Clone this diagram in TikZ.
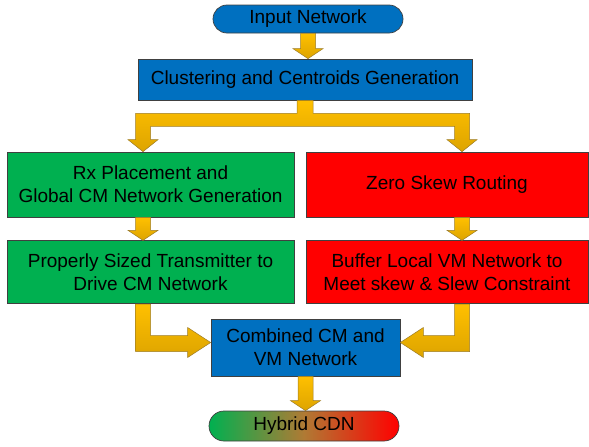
\documentclass[tikz,border=0pt]{standalone}
\usepackage{fontspec}
\setmainfont{Liberation Sans}
\usetikzlibrary{positioning,calc}
\definecolor{StepBlue}{HTML}{0070C0}
\definecolor{CmGreen}{HTML}{00B050}
\definecolor{VmRed}{HTML}{FF0000}
\definecolor{ArrowTop}{HTML}{FFC000}
\definecolor{ArrowBottom}{HTML}{DDA400}
\definecolor{ArrowEdge}{HTML}{9C7C28}
\definecolor{BoxEdge}{HTML}{404040}

% block arrow straight down from a point to the top of a node
\newcommand{\flowdown}[2]{%
  \draw[flow] let \p1=(#1), \p2=(#2.north) in
    (\x1-7.5pt,\y1) -- (\x1-7.5pt,\y2+10pt) -- (\x1-15pt,\y2+10pt) -- (\x1,\y2)
    -- (\x1+15pt,\y2+10pt) -- (\x1+7.5pt,\y2+10pt) -- (\x1+7.5pt,\y1) -- cycle;}

\begin{document}
\begin{tikzpicture}[x=1pt, y=-1pt, node distance=23pt, every node/.style={font=\fontsize{19}{23}\selectfont}]
        \tikzstyle{stage}=[draw=BoxEdge, line width=0.7pt, align=center, inner sep=2pt]
        \tikzstyle{flow}=[draw=ArrowEdge, line width=0.5pt, top color=ArrowTop, bottom color=ArrowBottom]
        \useasboundingbox (0,0) rectangle (589,447);

        \node[stage, fill=StepBlue, rounded corners=14pt, minimum width=190pt, minimum height=28pt] (in) at (308,19) {Input Network};
        \node[stage, fill=StepBlue, minimum width=334pt, minimum height=41pt] (cl) at (305,79.5) {Clustering and Centroids Generation};
        \node[stage, fill=CmGreen, minimum width=287pt, minimum height=65pt] (g1) at (150.5,184.5) {Rx Placement and\\Global CM Network Generation};
        \node[stage, fill=VmRed, minimum width=282pt, minimum height=65pt] (r1) at (447,184.5) {Zero Skew Routing};
        \node[stage, fill=CmGreen, minimum width=287pt, minimum height=63pt, below=of g1] (g2) {Properly Sized Transmitter to\\Drive CM Network};
        \node[stage, fill=VmRed, minimum width=282pt, minimum height=63pt, below=of r1] (r2) {Buffer Local VM Network to\\Meet skew \& Slew Constraint};
        \node[stage, fill=StepBlue, minimum width=189pt, minimum height=57pt] (cm) at (305.5,347.5) {Combined CM and\\VM Network};
        \node[stage, rounded corners=15pt, left color=CmGreen, right color=VmRed, middle color={rgb,255:red,176;green,122;blue,52}, minimum width=190pt, minimum height=30pt] (hy) at (304,426) {Hybrid CDN};

        % columns of the two branches
        \coordinate (colL) at (143,0);
        \coordinate (colR) at (462,0);

        \flowdown{in.south}{cl}
        % split into both branches
        \draw[flow] let \p0=(cl.south), \p1=(g1.north -| colL), \p2=(r1.north -| colR) in
          (\x0-8pt,\y0) -- (\x0-8pt,\y0-13pt) -- (\x1-7.5pt,\y0-13pt) -- (\x1-7.5pt,\y1+12pt)
          -- (\x1-15pt,\y1+12pt) -- (\x1,\y1) -- (\x1+15pt,\y1+12pt) -- (\x1+7.5pt,\y1+12pt)
          -- (\x1+7.5pt,\y0-26pt) -- (\x2-7.5pt,\y0-26pt) -- (\x2-7.5pt,\y1+12pt)
          -- (\x2-15pt,\y1+12pt) -- (\x2,\y1) -- (\x2+15pt,\y1+12pt) -- (\x2+7.5pt,\y1+12pt)
          -- (\x2+7.5pt,\y0-13pt) -- (\x0+8pt,\y0-13pt) -- (\x0+8pt,\y0) -- cycle;
        \flowdown{g1.south -| colL}{g2}
        \flowdown{r1.south -| colR}{r2}
        % both branches join again
        \draw[flow] let \p1=(g2.south -| colL), \p2=(cm.west) in
          (\x1-7.5pt,\y1) -- (\x1-7.5pt,\y2-4pt) -- (\x2-23pt,\y2-4pt) -- (\x2-23pt,\y2-10pt)
          -- (\x2,\y2+5pt) -- (\x2-23pt,\y2+20pt) -- (\x2-23pt,\y2+12pt)
          -- (\x1+7.5pt,\y2+12pt) -- (\x1+7.5pt,\y1) -- cycle;
        \draw[flow] let \p1=(r2.south -| colR), \p2=(cm.east) in
          (\x1+7.5pt,\y1) -- (\x1+7.5pt,\y2-4pt) -- (\x2+23pt,\y2-4pt) -- (\x2+23pt,\y2-10pt)
          -- (\x2,\y2+5pt) -- (\x2+23pt,\y2+20pt) -- (\x2+23pt,\y2+12pt)
          -- (\x1-7.5pt,\y2+12pt) -- (\x1-7.5pt,\y1) -- cycle;
        \flowdown{cm.south}{hy}
      \end{tikzpicture}
\end{document}
